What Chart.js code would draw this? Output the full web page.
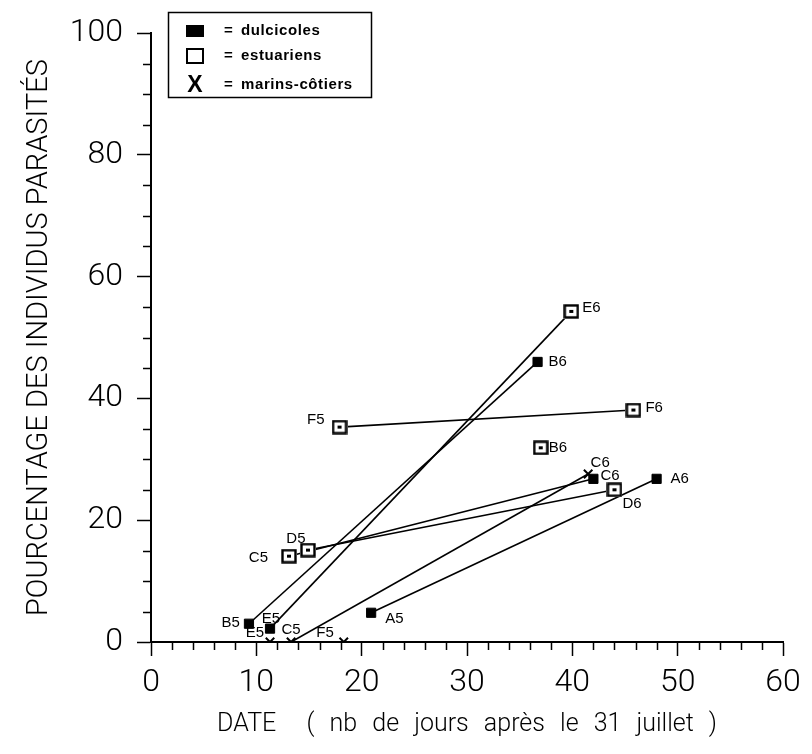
<!DOCTYPE html>
<html>
<head>
<meta charset="utf-8">
<script src="https://cdn.jsdelivr.net/npm/chart.js@4.4.1/dist/chart.umd.min.js"></script>
<style>
html, body { margin: 0; padding: 0; background: #fff; }
#wrap { width: 812px; height: 754px; }
</style>
</head>
<body>
<div id="wrap"><canvas id="chart" width="812" height="754"></canvas></div>
<script>
// Values (x = days after 31 July, y = % parasitised)
const dulcNames = ['A5', 'A6', 'B5', 'B6', 'E5', 'C6'];
const dulcX = [20.9, 48.0, 9.3, 36.7, 11.3, 42.0];
const dulcY = [4.8, 26.8, 3.0, 46.0, 2.2, 26.8];

const estuNames = ['C5', 'D5', 'F5', 'F6', 'B6', 'D6', 'E6'];
const estuX = [13.1, 14.9, 17.9, 45.8, 37.0, 44.0, 39.9];
const estuY = [14.1, 15.1, 35.3, 38.1, 31.9, 25.0, 54.3];

const marinNames = ['E5', 'C5', 'F5', 'C6'];
const marinX = [11.3, 13.3, 18.3, 41.5];
const marinY = [0, 0, 0, 27.6];

// segments joining campaign 5 to campaign 6: [series, name, series, name]
const links = [
    ['dulc', 'A5', 'dulc', 'A6'],
    ['dulc', 'B5', 'dulc', 'B6'],
    ['dulc', 'E5', 'estu', 'E6'],
    ['estu', 'C5', 'dulc', 'C6'],
    ['estu', 'D5', 'estu', 'D6'],
    ['estu', 'F5', 'estu', 'F6'],
    ['marin', 'C5', 'marin', 'C6']
];

const xTicks = [0, 10, 20, 30, 40, 50, 60];
const yTicks = [0, 20, 40, 60, 80, 100];

const series = {
    dulc: { label: 'dulcicoles', names: dulcNames, x: dulcX, y: dulcY },
    estu: { label: 'estuariens', names: estuNames, x: estuX, y: estuY },
    marin: { label: 'marins-côtiers', names: marinNames, x: marinX, y: marinY }
};

function pt(key, name) {
    const s = series[key];
    const i = s.names.indexOf(name);
    return { x: s.x[i], y: s.y[i] };
}

function points(key) {
    const s = series[key];
    return s.x.map((x, i) => ({ x: x, y: s.y[i] }));
}

// where each point name sits relative to its marker
const labelPos = {
    dulc: { A5: [14, 6, 'left'], A6: [14, 0, 'left'], B5: [-9, -1, 'right'], B6: [11, 0, 'left'], E5: [1, -10, 'center'], C6: [7, -3, 'left'] },
    estu: { C5: [-21, 2, 'right'], D5: [-12, -11, 'center'], F5: [-15, -7, 'right'], F6: [12, -2, 'left'], B6: [8, 0, 'left'], D6: [8, 14, 'left'], E6: [11, -4, 'left'] },
    marin: { E5: [-6, -9, 'right'], C5: [0, -12, 'center'], F5: [-10, -9, 'right'], C6: [12, -11, 'center'] }
};

// open square marker for estuariens
function boxMarker() {
    const c = document.createElement('canvas');
    c.width = 16;
    c.height = 15;
    const g = c.getContext('2d');
    g.fillStyle = '#fff';
    g.fillRect(0, 0, 16, 15);
    g.strokeStyle = '#000';
    g.lineWidth = 2.4;
    g.strokeRect(1.5, 1.5, 13, 12);
    g.fillStyle = '#000';
    g.fillRect(6, 6, 4, 3);
    return c;
}
const estuMarker = boxMarker();

const datasets = [
    {
        label: 'dulcicoles', key: 'dulc', legend: true,
        data: points('dulc'),
        pointStyle: 'rect', pointRadius: 6.5,
        backgroundColor: '#000', borderColor: '#000', borderWidth: 1,
        showLine: false, order: 0
    },
    {
        label: 'estuariens', key: 'estu', legend: true,
        data: points('estu'),
        pointStyle: estuMarker, pointRadius: 7,
        showLine: false, order: 0
    },
    {
        label: 'marins-côtiers', key: 'marin', legend: true,
        data: points('marin'),
        pointStyle: 'crossRot', pointRadius: 6,
        borderColor: '#000', borderWidth: 2,
        showLine: false, order: 0
    }
];

links.forEach(l => {
    datasets.push({
        label: l[1] + '-' + l[3],
        data: [pt(l[0], l[1]), pt(l[2], l[3])],
        showLine: true,
        borderColor: '#000',
        borderWidth: 1.6,
        pointRadius: 0,
        order: 1
    });
});

// point names next to markers
const pointNames = {
    id: 'pointNames',
    afterDatasetsDraw(chart) {
        const ctx = chart.ctx;
        ctx.save();
        ctx.font = '15px "Liberation Sans", Arial, sans-serif';
        ctx.fillStyle = '#000';
        ctx.textBaseline = 'middle';
        chart.data.datasets.forEach((ds, di) => {
            if (!ds.key) return;
            const meta = chart.getDatasetMeta(di);
            const names = series[ds.key].names;
            meta.data.forEach((el, i) => {
                const p = labelPos[ds.key][names[i]];
                ctx.textAlign = p[2];
                ctx.fillText(names[i], el.x + p[0], el.y + p[1]);
            });
        });
        ctx.restore();
    }
};

// minor ticks: every 2 days, every 5 %
const minorTicks = {
    id: 'minorTicks',
    afterDraw(chart) {
        const ctx = chart.ctx;
        const xs = chart.scales.x;
        const ys = chart.scales.y;
        const area = chart.chartArea;
        ctx.save();
        ctx.strokeStyle = '#000';
        ctx.lineWidth = 1.5;
        ctx.beginPath();
        for (let v = 0; v <= 60; v += 2) {
            if (v % 10 === 0) continue;
            const px = Math.round(xs.getPixelForValue(v)) + 0.5;
            ctx.moveTo(px, area.bottom);
            ctx.lineTo(px, area.bottom + 8);
        }
        for (let v = 0; v <= 100; v += 5) {
            if (v % 20 === 0) continue;
            const py = Math.round(ys.getPixelForValue(v)) + 0.5;
            ctx.moveTo(area.left, py);
            ctx.lineTo(area.left - 8, py);
        }
        ctx.stroke();
        ctx.restore();
    }
};

// wider word gaps in the x title only, as in the original
const titleSpacing = {
    id: 'titleSpacing',
    beforeDraw(chart) {
        const xs = chart.scales.x;
        if (xs._spaced) return;
        const orig = xs.drawTitle;
        xs.drawTitle = function () {
            chart.ctx.wordSpacing = '9px';
            orig.apply(this, arguments);
            chart.ctx.wordSpacing = '0px';
        };
        xs._spaced = true;
    }
};

// boxed legend in the upper left corner
const boxLegend = {
    id: 'boxLegend',
    afterDraw(chart) {
        const ctx = chart.ctx;
        const left = chart.chartArea.left + 17;
        const top = 12;
        ctx.save();
        ctx.strokeStyle = '#000';
        ctx.lineWidth = 1.5;
        ctx.strokeRect(left + 0.5, top + 0.5, 203, 85);

        const rows = chart.data.datasets.filter(d => d.legend);
        const rowY = [31, 56, 85];
        ctx.font = 'bold 15px "Liberation Sans", Arial, sans-serif';
        ctx.textBaseline = 'middle';
        ctx.fillStyle = '#000';
        rows.forEach((ds, i) => {
            const y = rowY[i];
            const cx = left + 27;
            if (ds.key === 'dulc') {
                ctx.fillRect(cx - 9, y - 6, 18, 12);
            } else if (ds.key === 'estu') {
                ctx.lineWidth = 2;
                ctx.strokeRect(cx - 8, y - 7, 16, 14);
            } else {
                ctx.save();
                ctx.font = 'bold 23px "Liberation Sans", Arial, sans-serif';
                ctx.textAlign = 'center';
                ctx.fillText('X', cx, y + 1);
                ctx.restore();
            }
            ctx.textAlign = 'left';
            ctx.fillText('=', left + 56, y);
            ctx.letterSpacing = '0.6px';
            ctx.fillText(ds.label, left + 73, y);
            ctx.letterSpacing = '0px';
        });
        ctx.restore();
    }
};

const tickFont = { family: 'Roboto, "Liberation Sans", Arial, sans-serif', size: 32, weight: '300' };

const ctx = document.getElementById('chart').getContext('2d');
const chart = new Chart(ctx, {
    type: 'scatter',
    data: { datasets: datasets },
    plugins: [titleSpacing, pointNames, minorTicks, boxLegend],
    options: {
        responsive: false,
        animation: false,
        events: [],
        layout: { padding: { top: 20, right: 29, left: 0, bottom: 0 } },
        plugins: {
            legend: { display: false },
            tooltip: { enabled: false }
        },
        scales: {
            x: {
                type: 'linear',
                min: 0,
                max: 60,
                afterBuildTicks: scale => { scale.ticks = xTicks.map(v => ({ value: v })); },
                afterFit: scale => { scale.height = 112; },
                ticks: { color: '#000', font: tickFont, padding: 8, maxRotation: 0 },
                grid: { drawOnChartArea: false, drawTicks: true, tickLength: 14, color: '#000', tickWidth: 1.5 },
                border: { display: true, color: '#000', width: 2 },
                title: {
                    display: true,
                    text: 'DATE  ( nb de jours après le 31 juillet )',
                    color: '#000',
                    font: { family: 'Roboto, "Liberation Sans", Arial, sans-serif', size: 25, weight: '300' },
                    padding: { top: 4, bottom: 14 }
                }
            },
            y: {
                type: 'linear',
                min: 0,
                max: 100,
                afterBuildTicks: scale => { scale.ticks = yTicks.map(v => ({ value: v })); },
                afterFit: scale => { scale.width = 151; },
                ticks: { color: '#000', font: tickFont, padding: 14 },
                grid: { drawOnChartArea: false, drawTicks: true, tickLength: 14, color: '#000', tickWidth: 1.5 },
                border: { display: true, color: '#000', width: 2 },
                title: {
                    display: true,
                    text: 'POURCENTAGE DES INDIVIDUS PARASITÉS',
                    color: '#000',
                    font: { family: 'Roboto, "Liberation Sans", Arial, sans-serif', size: 29, weight: '300' },
                    padding: { top: 22, bottom: 22 }
                }
            }
        }
    }
});
</script>
</body>
</html>
